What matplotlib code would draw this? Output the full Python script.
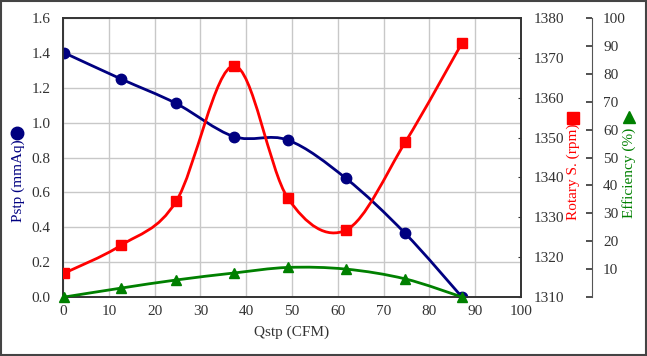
import matplotlib.pyplot as plt
import matplotlib.patches as mpatches
from matplotlib.path import Path
from matplotlib.lines import Line2D
import numpy as np

plt.rcParams['font.family'] = 'Liberation Serif'

# data
qstp = [0.3, 12.7, 24.7, 37.3, 49.1, 61.8, 74.7, 87.1]
pstp = [1.40, 1.25, 1.11, 0.92, 0.90, 0.68, 0.365, 0.0]
rpm = [1316, 1323, 1334, 1368, 1334.8, 1326.8, 1348.8, 1373.7]
eff = [0.0, 3.2, 6.1, 8.6, 10.6, 10.0, 6.5, 0.0]

x_ticks = list(range(0, 101, 10))
p_ticks = [0.0, 0.2, 0.4, 0.6, 0.8, 1.0, 1.2, 1.4, 1.6]
rpm_ticks = list(range(1310, 1381, 10))
eff_ticks = list(range(0, 101, 10))

navy = '#000080'
red = '#ff0000'
green = '#008000'


def smooth(ax, xs, ys, color):
    # excel style smoothed line (catmull-rom as cubic bezier)
    n = len(xs)
    verts = [(xs[0], ys[0])]
    codes = [Path.MOVETO]
    for i in range(n - 1):
        a = max(i - 1, 0)
        b = min(i + 2, n - 1)
        c1 = (xs[i] + (xs[i + 1] - xs[a]) / 6, ys[i] + (ys[i + 1] - ys[a]) / 6)
        c2 = (xs[i + 1] - (xs[b] - xs[i]) / 6, ys[i + 1] - (ys[b] - ys[i]) / 6)
        verts += [c1, c2, (xs[i + 1], ys[i + 1])]
        codes += [Path.CURVE4] * 3
    patch = mpatches.PathPatch(Path(verts, codes), facecolor='none',
                               edgecolor=color, lw=2.0, transform=ax.transData,
                               zorder=3)
    ax.add_patch(patch)


fig = plt.figure(figsize=(6.47, 3.56), dpi=100)
ax = fig.add_axes([0.0974, 0.1657, 0.7079, 0.7837])
ax2 = ax.twinx()
ax3 = ax.twinx()

fs = 11

# pressure
smooth(ax, qstp, pstp, navy)
ax.plot(qstp, pstp, 'o', color=navy, ms=7.5, zorder=4)
ax.set_xlim(0, 100)
ax.set_ylim(0, 1.6)
ax.set_xticks(x_ticks)
ax.set_yticks(p_ticks)
ax.set_yticklabels([f'{v:.1f}' for v in p_ticks])
ax.grid(True, color='#c8c8c8', lw=1.0)
ax.set_axisbelow(True)
ax.tick_params(length=0, pad=9, labelsize=fs, colors='#333333')
ax.tick_params(axis='x', pad=6)
ax.set_xlabel('Qstp (CFM)', fontsize=fs, color='#333333', labelpad=5)

# rotary speed
smooth(ax2, qstp, rpm, red)
ax2.plot(qstp, rpm, 's', color=red, ms=7.5, zorder=4)
ax2.set_ylim(1310, 1380)
ax2.set_yticks(rpm_ticks)
ax2.tick_params(direction='in', length=2, pad=9, labelsize=fs,
                colors='#333333')

# efficiency
smooth(ax3, qstp, eff, green)
ax3.plot(qstp, eff, '^', color=green, ms=7.5, zorder=4, clip_on=False)
ax3.set_ylim(0, 100)
ax3.set_yticks(eff_ticks)
ax3.set_yticklabels([''] + [str(v) for v in eff_ticks[1:]])
ax3.spines['right'].set_position(('axes', 1.155))
ax3.spines['right'].set_color('#555555')
ax3.tick_params(direction='in', length=4, width=1.2, pad=8, labelsize=fs,
                colors='#333333')

for a in (ax, ax2):
    for s in a.spines.values():
        s.set_color('#333333')
        s.set_linewidth(1.2)
for s in ('top', 'left', 'bottom'):
    ax3.spines[s].set_visible(False)

# axis titles with marker symbols
fig.text(18 / 647, 1 - 181 / 356, 'Pstp (mmAq)', rotation=90, color=navy,
         fontsize=fs, ha='center', va='center')
fig.text(573 / 647, 1 - 172 / 356, 'Rotary S. (rpm)', rotation=90, color=red,
         fontsize=fs, ha='center', va='center')
fig.text(629 / 647, 1 - 173 / 356, 'Efficiency (%)', rotation=90, color=green,
         fontsize=fs, ha='center', va='center')
fig.add_artist(Line2D([17 / 647], [1 - 133 / 356], marker='o', ms=9,
                      color=navy, transform=fig.transFigure))
fig.add_artist(Line2D([573 / 647], [1 - 118 / 356], marker='s', ms=9,
                      color=red, transform=fig.transFigure))
fig.add_artist(Line2D([629 / 647], [1 - 117 / 356], marker='^', ms=9,
                      color=green, transform=fig.transFigure))

# outer border
fig.add_artist(mpatches.Rectangle((0.002, 0.003), 0.996, 0.994, fill=False,
                                  edgecolor='#444444', lw=1.5,
                                  transform=fig.transFigure))

fig.savefig('out.png', dpi=100)
